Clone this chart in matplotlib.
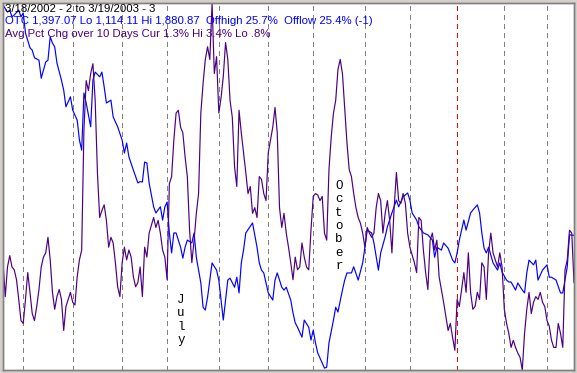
import matplotlib
matplotlib.use('Agg')
import matplotlib.pyplot as plt

# session number (trading day since 3/18/2002) and OTC composite close
otc_days = [0, 2, 3, 4, 5, 7, 8, 9, 10, 12, 13, 14, 16, 17, 19, 20, 21, 22, 23, 24,
            26, 27, 28, 30, 31, 33, 34, 35, 36, 37, 39, 40, 41, 43, 44, 45, 46, 48, 49, 51,
            53, 54, 55, 56, 58, 60, 61, 62, 63, 64, 65, 67, 68, 70, 71, 72, 73, 74, 75, 76,
            77, 79, 80, 81, 82, 84, 85, 86, 88, 89, 90, 91, 93, 95, 96, 97, 98, 99, 100, 101,
            103, 104, 105, 106, 107, 108, 111, 113, 114, 115, 116, 118, 120, 121, 122, 124, 125, 126, 128, 129,
            130, 131, 133, 134, 136, 137, 138, 139, 140, 142, 143, 144, 145, 147, 148, 149, 151, 152, 153, 155,
            156, 158, 160, 161, 162, 164, 165, 167, 168, 170, 171, 173, 175, 176, 178, 180, 181, 182, 184, 185,
            187, 189, 191, 192, 193, 195, 196, 198, 200, 201, 202, 203, 204, 205, 206, 208, 209, 211, 212, 213,
            214, 215, 216, 218, 220, 221, 222, 224, 225, 226, 228, 229, 231, 232, 233, 234, 236, 237, 238, 240,
            242, 243, 244, 246, 248, 249, 251, 252, 254]
otc = [1881, 1866, 1870, 1856, 1860, 1870, 1856, 1864, 1822, 1791, 1786, 1770, 1765, 1727, 1761, 1765, 1814, 1801, 1793, 1759,
       1723, 1702, 1667, 1688, 1660, 1639, 1597, 1576, 1696, 1675, 1625, 1723, 1740, 1730, 1740, 1709, 1675, 1681, 1646, 1625,
       1597, 1570, 1591, 1562, 1534, 1507, 1510, 1509, 1551, 1549, 1507, 1457, 1444, 1457, 1429, 1457, 1467, 1402, 1360, 1402,
       1402, 1372, 1349, 1372, 1387, 1381, 1402, 1351, 1297, 1246, 1240, 1267, 1339, 1324, 1303, 1261, 1219, 1261, 1303, 1307,
       1288, 1309, 1276, 1339, 1366, 1402, 1423, 1372, 1339, 1324, 1318, 1276, 1261, 1303, 1318, 1288, 1282, 1288, 1261, 1234,
       1213, 1204, 1183, 1219, 1204, 1177, 1198, 1171, 1150, 1129, 1118, 1120, 1171, 1219, 1246, 1236, 1282, 1303, 1318, 1318,
       1331, 1303, 1339, 1372, 1408, 1402, 1381, 1324, 1360, 1394, 1415, 1444, 1471, 1457, 1478, 1486, 1471, 1444, 1429, 1415,
       1402, 1398, 1387, 1351, 1372, 1366, 1381, 1370, 1345, 1339, 1360, 1387, 1408, 1429, 1408, 1444, 1450, 1461, 1444, 1402,
       1370, 1360, 1372, 1339, 1324, 1339, 1320, 1303, 1299, 1299, 1282, 1297, 1282, 1276, 1318, 1345, 1335, 1345, 1303, 1324,
       1335, 1309, 1309, 1303, 1276, 1276, 1331, 1398, 1397]

# average percent change over 10 days
pct_days = list(range(0, 62)) + [
    62, 63, 64, 65, 67, 68, 69, 70, 71, 72, 73, 74, 75, 76, 77, 78, 79, 80, 81, 82,
    83, 84, 85, 86, 87, 88, 89, 90, 91, 92, 93, 94, 95, 96, 97, 98, 99, 100, 101, 102,
    103, 104, 105, 106, 107, 108, 109, 110, 111, 112, 113, 114, 115, 116, 117, 118, 119, 120, 121, 122,
    123, 124, 125, 126, 127, 128, 129, 130, 131, 132, 133, 134, 135, 136, 137, 138, 139, 140, 141, 142,
    143, 144, 145, 146, 147, 148, 149, 150, 151, 152, 153, 154, 155, 156, 157, 158, 159, 160, 161, 162,
    163, 164, 165, 166, 167, 168, 169, 170, 171, 172, 173, 174, 175, 176, 177, 178, 179, 180, 181, 183,
    184, 185, 186, 187, 188, 189, 190, 191, 192, 193, 194, 195, 196, 197, 198, 199, 200, 201, 202, 203,
    204, 205, 206, 207, 208, 209, 210, 211, 212, 213, 214, 215, 216, 217, 218, 219, 220, 221, 222, 223,
    224, 225, 226, 227, 228, 229, 230, 231, 232, 233, 234, 235, 236, 237, 238, 239, 240, 241, 242, 243,
    244, 245, 246, 247, 248, 249, 250, 251, 252, 253, 254]
pct = [1.56, 1.32, 1.53, 1.61, 1.53, 1.51, 1.44, 1.30, 1.15, 1.13, 1.30, 1.49, 1.35, 1.20, 1.15, 1.25, 1.37, 1.53, 1.60, 1.63,
       1.74, 1.58, 1.35, 1.23, 1.32, 1.37, 1.30, 1.08, 1.25, 1.30, 1.35, 1.28, 1.26, 1.46, 1.58, 1.65, 2.50, 2.85, 2.78, 2.90,
       2.97, 2.71, 2.20, 1.88, 1.93, 1.97, 1.86, 1.67, 1.74, 1.70, 1.56, 1.39, 1.32, 1.56, 1.67, 1.58, 1.65, 1.60, 1.46, 1.39,
       1.42, 1.53,
       1.32, 1.67, 1.60, 1.77, 1.88, 1.81, 1.86, 1.77, 1.65, 1.60, 1.44, 2.12, 2.17, 2.43, 2.62, 2.64, 2.52, 2.48, 2.31, 2.17,
       1.79, 1.56, 1.72, 1.91, 2.05, 2.62, 2.83, 3.00, 3.09, 3.00, 3.40, 2.90, 3.02, 2.62, 2.73, 2.88, 3.12, 3.00, 2.71, 2.59,
       2.24, 2.10, 2.64, 2.48, 2.34, 2.20, 2.05, 2.10, 1.91, 1.95, 1.88, 2.17, 2.15, 2.05, 2.00, 2.34, 2.43, 2.52, 2.66, 2.48,
       1.95, 1.81, 1.91, 1.77, 1.67, 1.56, 1.44, 1.60, 1.51, 1.53, 1.70, 1.60, 1.53, 1.51, 1.79, 2.03, 2.05, 2.04, 2.00, 2.03,
       1.77, 1.72, 2.22, 2.45, 2.62, 2.71, 2.93, 3.00, 2.90, 2.66, 2.41, 2.22, 2.17, 2.05, 1.95, 1.88, 1.84, 1.77, 1.67, 1.81,
       1.77, 1.74, 1.77, 1.95, 2.05, 2.00, 1.77, 1.91, 2.00, 1.86, 1.63, 1.95, 2.20, 2.00, 1.98, 2.05, 1.98, 1.77, 1.67, 1.56,
       1.49, 1.88, 1.86, 1.65, 1.49, 1.37, 1.72, 1.77, 1.65, 1.72, 1.46, 1.37, 1.28, 1.18, 1.08, 1.13, 1.03, 0.94, 1.30, 1.25,
       1.37, 1.49, 1.35, 1.63, 1.35, 1.23, 1.25, 1.35, 1.30, 1.56, 1.53, 1.30, 1.63, 1.77, 1.63, 1.58, 1.53, 1.63, 1.53, 1.23,
       1.13, 1.06, 0.96, 1.01, 0.96, 0.92, 0.89, 0.80, 1.06, 1.23, 1.35, 1.20, 1.28, 1.32, 1.30, 1.35, 1.28, 1.25, 1.15, 1.11,
       1.01, 0.96, 0.96, 1.13, 1.06, 0.96, 1.51, 1.58, 1.79, 1.77, 1.42]

# first session of each month, Apr 2002 .. Mar 2003
month_starts = [9, 31, 53, 73, 96, 118, 138, 161, 181, 202, 223, 242]
year_start = 202

header = '3/18/2002 - 2 to 3/19/2003 - 3'
otc_label = 'OTC 1,397.07 Lo 1,114.11 Hi 1,880.87  Offhigh 25.7%  Offlow 25.4% (-1)'
pct_label = 'Avg Pct Chg over 10 Days Cur 1.3% Hi 3.4% Lo .8%'

W, H = 577, 373
fig = plt.figure(figsize=(W / 100, H / 100), dpi=100)
fig.patch.set_facecolor('#d4d0c8')
ax = fig.add_axes([3 / W, 3 / H, 571 / W, 367 / H])
ax.set_facecolor('white')

for m in month_starts:
    col = '#ff0000' if m == year_start else '#808080'
    ax.axvline(m, color=col, lw=1, linestyle=(0, (3, 3)), antialiased=False, zorder=1)

ax.plot(otc_days, otc, color='#0000ff', lw=0.85, zorder=3)
ax.set_xlim(0, 254)
ax.set_ylim(1114.11, 1885.07)

ax2 = ax.twinx()
ax2.plot(pct_days, pct, color='#4b0082', lw=0.85, zorder=2)
ax2.set_ylim(0.8, 3.4)

for a in (ax, ax2):
    a.set_xticks([])
    a.set_yticks([])
    for s in a.spines.values():
        s.set_color('#808080')
        s.set_linewidth(1)

font = dict(family='Liberation Sans', fontsize=8.2)
fig.text(5 / W, 1 - 9 / H, header, color='black', va='center', **font)
fig.text(5 / W, 1 - 21.5 / H, otc_label, color='#0000ff', va='center', **font)
fig.text(5 / W, 1 - 34 / H, pct_label, color='#4b0082', va='center', **font)

mono = dict(family='Liberation Mono', fontsize=9, ha='center', va='center',
            linespacing=1.15, color='black')
fig.text(181 / W, 1 - 320 / H, '\n'.join('July'), **mono)
fig.text(339 / W, 1 - 226 / H, '\n'.join('October'), **mono)

fig.savefig('out.png', dpi=100, facecolor=fig.get_facecolor())
